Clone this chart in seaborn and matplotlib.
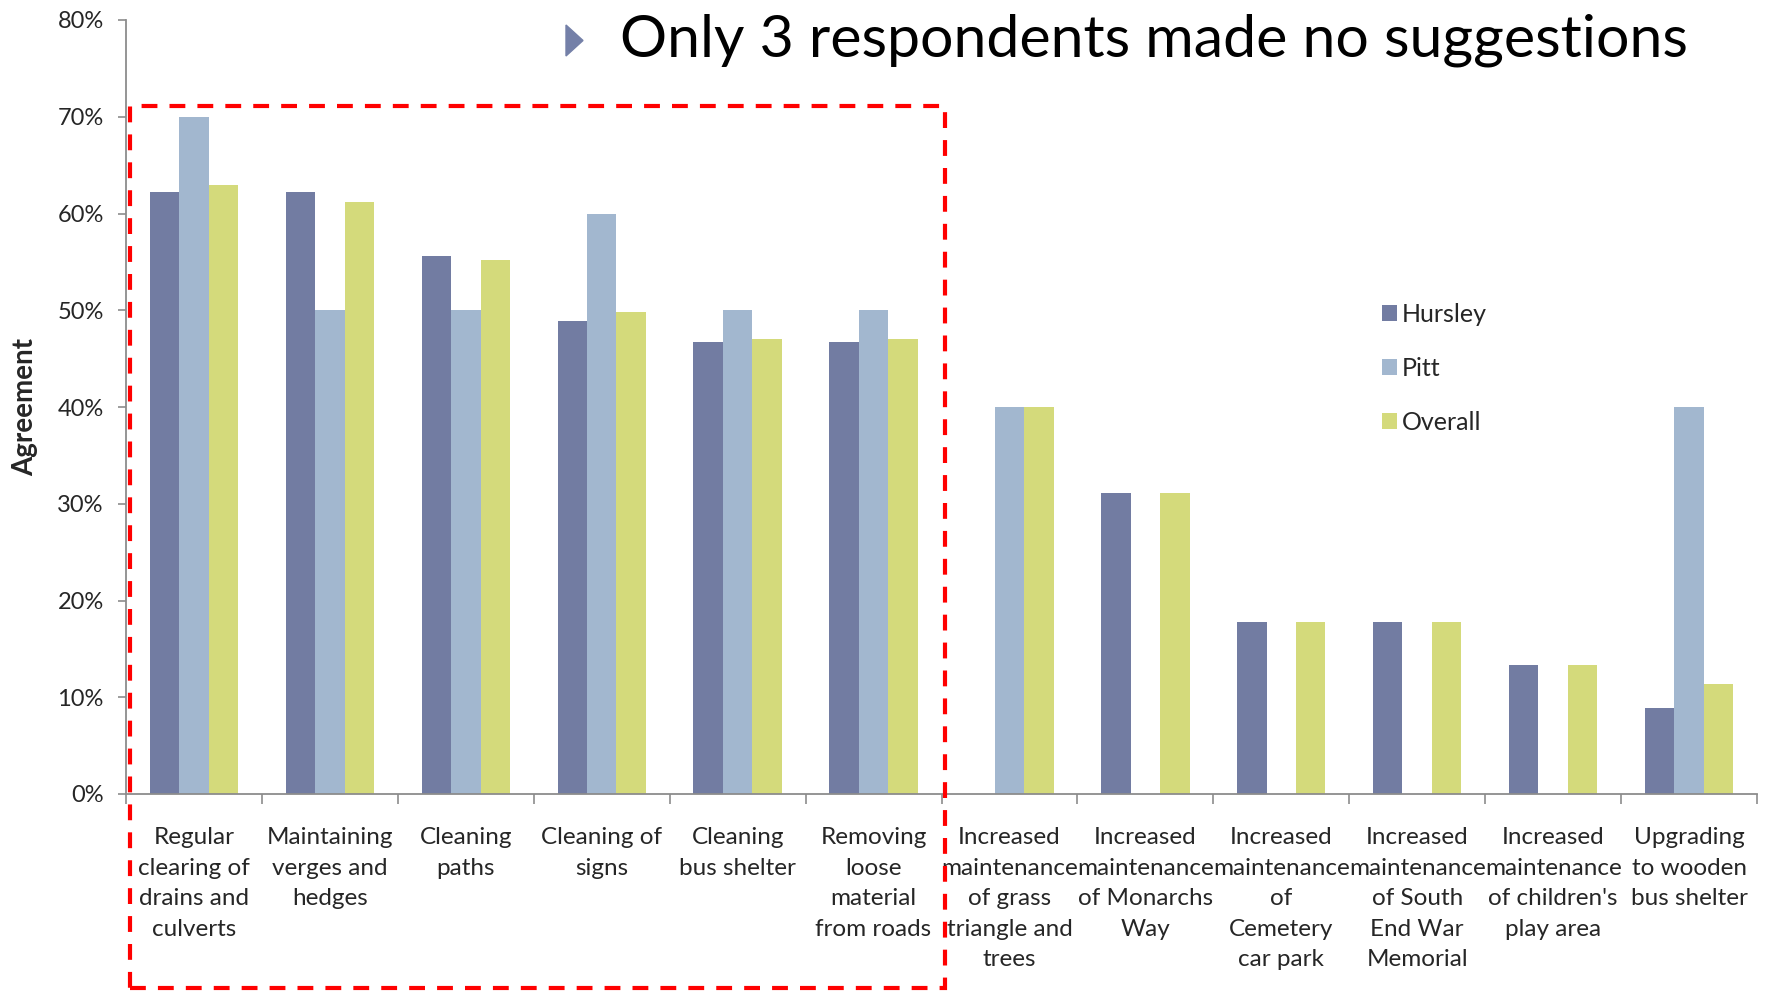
import numpy as np
import pandas as pd
import matplotlib
matplotlib.use('Agg')
import matplotlib.pyplot as plt
import matplotlib.patches as mpatches
from matplotlib.ticker import FixedLocator, FuncFormatter
import seaborn as sns

sns.set_theme(style='white')
plt.rcParams['font.family'] = ['Lato', 'DejaVu Sans']

# data (percent agreement)
categories = [
    "Regular\nclearing of\ndrains and\nculverts",
    "Maintaining\nverges and\nhedges",
    "Cleaning\npaths",
    "Cleaning of\nsigns",
    "Cleaning\nbus shelter",
    "Removing\nloose\nmaterial\nfrom roads",
    "Increased\nmaintenance\nof grass\ntriangle and\ntrees",
    "Increased\nmaintenance\nof Monarchs\nWay",
    "Increased\nmaintenance\nof\nCemetery\ncar park",
    "Increased\nmaintenance\nof South\nEnd War\nMemorial",
    "Increased\nmaintenance\nof children's\nplay area",
    "Upgrading\nto wooden\nbus shelter",
]
hursley = [62.2, 62.2, 55.6, 48.9, 46.7, 46.7, 0.0, 31.1, 17.8, 17.8, 13.3, 8.9]
pitt = [70.0, 50.0, 50.0, 60.0, 50.0, 50.0, 40.0, 0.0, 0.0, 0.0, 0.0, 40.0]
overall = [62.9, 61.2, 55.2, 49.8, 47.0, 47.0, 40.0, 31.1, 17.8, 17.8, 13.3, 11.4]
series_names = ['Hursley', 'Pitt', 'Overall']
y_ticks = [0, 10, 20, 30, 40, 50, 60, 70, 80]

df = pd.DataFrame({
    'category': categories * 3,
    'series': np.repeat(series_names, len(categories)),
    'value': hursley + pitt + overall,
})

colors = {'Hursley': '#727ca2', 'Pitt': '#a2b7cf', 'Overall': '#d4da7b'}

W, H = 1769, 992
fig = plt.figure(figsize=(W / 100, H / 100), dpi=100)
ax = fig.add_axes([126 / W, 1 - 794 / H, (1757 - 126) / W, (794 - 20) / H])

sns.barplot(data=df, x='category', y='value', hue='series', palette=colors,
            width=0.65, saturation=1, linewidth=0, ax=ax, order=categories,
            hue_order=series_names)

ax.set_xlim(-0.5, len(categories) - 0.5)
ax.set_ylim(0, 80)
ax.set_yticks(y_ticks)
ax.yaxis.set_major_formatter(FuncFormatter(lambda v, p: f'{v:.0f}%'))
ax.set_xlabel('')
ax.set_ylabel('Agreement', fontsize=20, fontweight='bold', labelpad=13.5)

for s in ['top', 'right']:
    ax.spines[s].set_visible(False)
for s in ['left', 'bottom']:
    ax.spines[s].set_color('#8c8c8c')
    ax.spines[s].set_linewidth(1.3)

ax.tick_params(axis='y', which='major', left=True, length=6, width=1.2,
               color='#8c8c8c', labelsize=17, pad=10)
ax.tick_params(axis='x', which='major', bottom=False, length=0, labelsize=17.5, pad=24)
ax.xaxis.set_minor_locator(FixedLocator(np.arange(-0.5, len(categories), 1.0)))
ax.tick_params(axis='x', which='minor', bottom=True, length=7, width=1.2, color='#8c8c8c')
for lab in ax.get_xticklabels():
    lab.set_linespacing(1.56)
    lab.set_verticalalignment('top')

leg = ax.legend(loc='upper left', bbox_to_anchor=(1359 / W, 1 - 280 / H),
                bbox_transform=fig.transFigure, frameon=False, fontsize=18,
                handlelength=0.6, handleheight=0.6, handletextpad=0.2,
                labelspacing=1.25, title=None)

# title with triangle bullet
fig.text(620 / W, 1 - 40 / H, 'Only 3 respondents made no suggestions',
         fontsize=42.5, ha='left', va='center', color='black')
tri = mpatches.Polygon([(566 / W, 1 - 25 / H), (566 / W, 1 - 56 / H), (583 / W, 1 - 40.5 / H)],
                       closed=True, transform=fig.transFigure, color='#7480a8')
fig.add_artist(tri)

# red dashed highlight box
box = mpatches.Rectangle((130 / W, 1 - 988 / H), (945 - 130) / W, (988 - 106) / H,
                         transform=fig.transFigure, fill=False, edgecolor='#ff0000',
                         linewidth=3, linestyle=(0, (3.8, 2.9)), clip_on=False, zorder=10)
fig.add_artist(box)

fig.savefig('out.png', dpi=100)
